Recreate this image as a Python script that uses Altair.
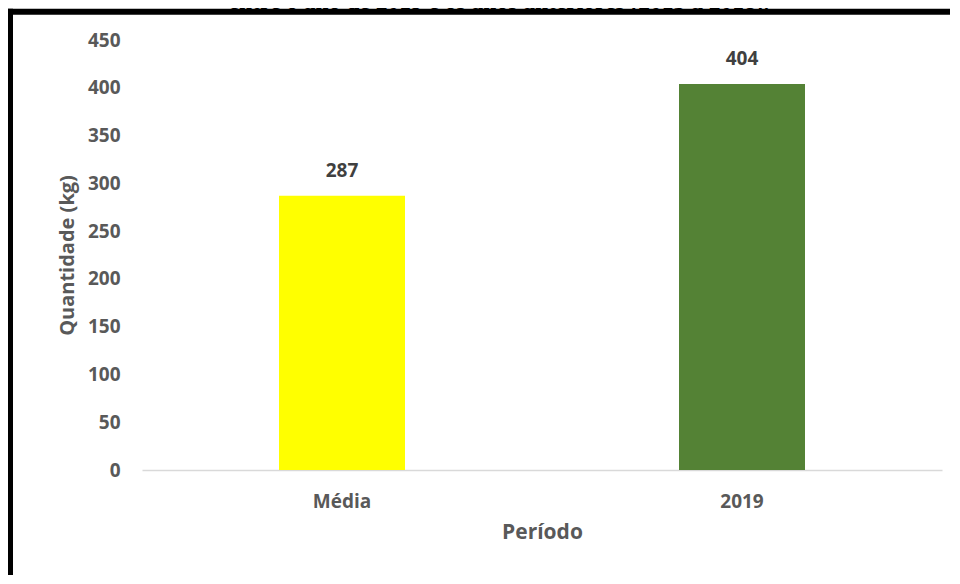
import altair as alt
import pandas as pd

categories = ["Média", "2019"]
values = [287, 404]
bar_colors = ["#FFFF00", "#548235"]
y_ticks = [0, 50, 100, 150, 200, 250, 300, 350, 400, 450]
title_text = "entre o ano de 2019 e os anos anteriores (2015 a 2018)."

df = pd.DataFrame({"Período": categories, "Quantidade": values})
one = pd.DataFrame({"k": [0]})

FONT = "Open Sans"
GRAY = "#595959"

x_enc = alt.X(
    "Período:N",
    sort=categories,
    scale=alt.Scale(paddingInner=0, paddingOuter=0),
    axis=alt.Axis(
        title="Período",
        labelAngle=0,
        domain=True,
        domainColor="#d9d9d9",
        domainWidth=1.5,
        ticks=False,
        labelPadding=22,
        labelFont=FONT,
        labelFontSize=19,
        labelFontWeight="bold",
        labelColor=GRAY,
        titleFont=FONT,
        titleFontSize=21,
        titleFontWeight="bold",
        titleColor=GRAY,
        titlePadding=10,
    ),
)
y_enc = alt.Y(
    "Quantidade:Q",
    scale=alt.Scale(domain=[0, 450], nice=False),
    axis=alt.Axis(
        title="Quantidade (kg)",
        values=y_ticks,
        domain=False,
        ticks=False,
        grid=False,
        labelPadding=22,
        labelFont=FONT,
        labelFontSize=19,
        labelFontWeight="bold",
        labelColor=GRAY,
        titleFont=FONT,
        titleFontSize=20,
        titleFontWeight="bold",
        titleColor=GRAY,
        titlePadding=10,
    ),
)

bars = alt.Chart(df).mark_bar(size=126).encode(
    x=x_enc,
    y=y_enc,
    color=alt.Color("Período:N", scale=alt.Scale(domain=categories, range=bar_colors), legend=None),
)

labels = alt.Chart(df).mark_text(
    dy=-25, baseline="middle", font=FONT, fontSize=19, fontWeight="bold", color="#404040"
).encode(
    x=alt.X("Período:N", sort=categories),
    y="Quantidade:Q",
    text="Quantidade:Q",
)

top_bar = alt.Chart(one).mark_rect(color="black", strokeWidth=0).encode(
    x=alt.value(-135), x2=alt.value(808), y=alt.value(-31.3), y2=alt.value(-25.3)
)
left_bar = alt.Chart(one).mark_rect(color="black", strokeWidth=0).encode(
    x=alt.value(-135), x2=alt.value(-129), y=alt.value(-31.3), y2=alt.value(535)
)

title = alt.Chart(one).mark_text(
    font="Liberation Serif", fontSize=23.5, fontWeight="bold", color="black",
    baseline="alphabetic", align="center",
).encode(
    x=alt.value(357), y=alt.value(-31.5), text=alt.value(title_text)
)

chart = alt.layer(top_bar, left_bar, bars, labels, title).properties(
    width=800,
    height=430,
    padding={"left": 134, "top": 32, "right": 10, "bottom": 106},
    autosize=alt.AutoSizeParams(type="none"),
    background="white",
).configure_view(strokeWidth=0)

chart.save("out.html", embed_options={"renderer": "svg", "actions": False})
